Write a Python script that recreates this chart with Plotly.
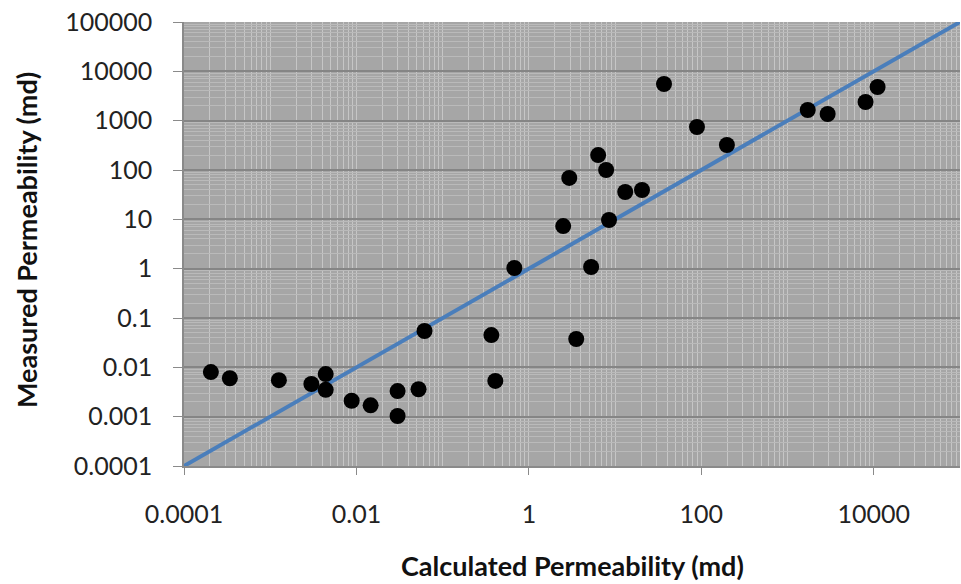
import plotly.graph_objects as go

# Data (md)
calculated = [2.05e-4, 3.4e-4, 1.26e-3, 3.0e-3, 4.4e-3, 4.4e-3, 8.8e-3, 0.0146, 0.030, 0.030,
              0.0525, 0.0616, 0.367, 0.408, 0.678, 2.5, 2.94, 3.54, 5.27, 6.36,
              7.87, 8.5, 13.1, 20.5, 36.9, 89, 198, 1714, 2917, 8035, 11070]
measured = [0.0080, 0.0060, 0.0055, 0.0046, 0.0073, 0.0035, 0.0021, 0.0017, 0.0033, 0.00103,
            0.0036, 0.0545, 0.045, 0.0053, 1.03, 7.3, 69, 0.0375, 1.08, 201,
            100, 9.7, 35.8, 39.3, 5540, 745, 321, 1645, 1365, 2388, 4810]
line_ends = [1e-4, 1e5]

x_ticks = [1e-4, 1e-2, 1, 100, 1e4]
x_ticklabels = ["0.0001", "0.01", "1", "100", "10000"]
y_ticks = [1e-4, 1e-3, 1e-2, 1e-1, 1, 10, 100, 1000, 1e4, 1e5]
y_ticklabels = ["0.0001", "0.001", "0.01", "0.1", "1", "10", "100", "1000", "10000", "100000"]

FONT = "Lato"

fig = go.Figure()
fig.add_trace(go.Scatter(x=line_ends, y=line_ends, mode="lines",
                         line=dict(color="#4a7ebb", width=4), showlegend=False,
                         hoverinfo="skip"))
fig.add_trace(go.Scatter(x=calculated, y=measured, mode="markers",
                         marker=dict(color="black", size=16), showlegend=False))

fig.update_layout(
    width=961, height=584,
    margin=dict(l=184, r=1, t=22, b=118),
    paper_bgcolor="white",
    plot_bgcolor="#a6a6a6",
    font=dict(family=FONT, size=25, color="#222222"),
    xaxis=dict(type="log", range=[-4, 5], tickvals=x_ticks, ticktext=x_ticklabels,
               showgrid=False, zeroline=False,
               showline=True, linecolor="#8a8a8a", linewidth=1.5,
               ticks="outside", ticklen=7, tickcolor="#8a8a8a",
               ticklabelstandoff=18,
               minor=dict(showgrid=True, gridcolor="#c6c6c6", gridwidth=1, dtick="D1", ticks="")),
    yaxis=dict(type="log", range=[-4, 5], tickvals=y_ticks, ticktext=y_ticklabels,
               showgrid=True, gridcolor="#858585", gridwidth=1.5, zeroline=False,
               showline=True, linecolor="#8a8a8a", linewidth=1.5,
               ticks="outside", ticklen=9, tickcolor="#8a8a8a",
               ticklabelstandoff=16,
               minor=dict(showgrid=True, gridcolor="#bababa", gridwidth=1, dtick="D1", ticks="")),
    annotations=[
        dict(text="<b>Calculated Permeability (md)</b>", xref="paper", yref="paper",
             x=0.5, y=-(565 - 466) / 444, xanchor="center", yanchor="middle",
             showarrow=False, font=dict(family=FONT, size=27, color="#111111")),
        dict(text="<b>Measured Permeability (md)</b>", xref="paper", yref="paper",
             x=-(184 - 26) / 776, y=(466 - 240) / 444, xanchor="center", yanchor="middle",
             textangle=-90, showarrow=False, font=dict(family=FONT, size=27, color="#111111")),
    ],
)

fig.write_html("out.html")
